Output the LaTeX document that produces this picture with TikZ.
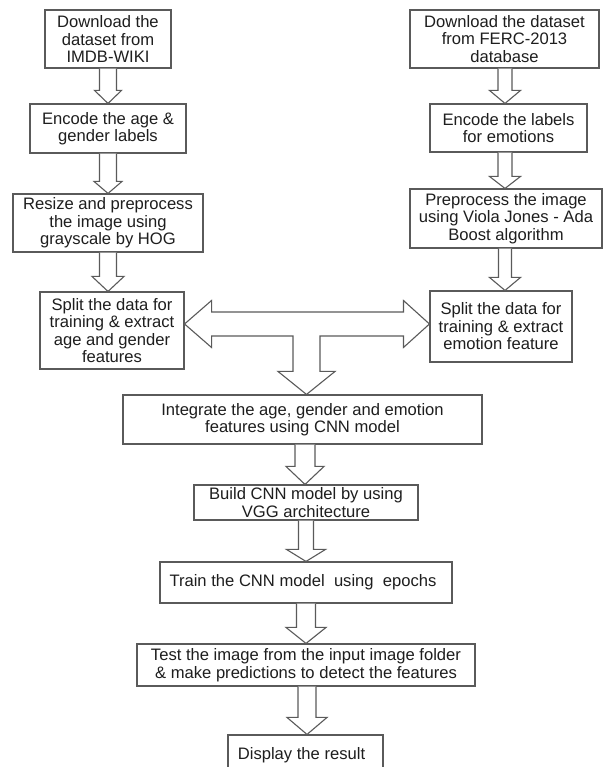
\documentclass[tikz,border=0pt]{standalone}
\usepackage{fontspec}
\setmainfont{Liberation Sans}
\usetikzlibrary{calc}
\definecolor{linec}{HTML}{5A5A5A}
\definecolor{txt}{HTML}{1E1E1E}
\newcommand\boxfont{\fontsize{16.6}{17.5}\selectfont}
\tikzset{
  box/.style={draw=linec, line width=1.1pt, fill=white, text=txt, align=center, inner sep=0pt, font=\boxfont},
  blk/.style={draw=linec, line width=1.1pt, fill=white, line join=miter},
}
% from, to, x, shaft half width, head half width, head length
\newcommand\varrow[6]{%
  \draw[blk] let \p1=(#1.south), \p2=(#2.north) in
    ({#3pt-#4pt},\y1) -- ({#3pt-#4pt},\y2+#6pt) -- ({#3pt-#5pt},\y2+#6pt) -- (#3pt,\y2)
    -- ({#3pt+#5pt},\y2+#6pt) -- ({#3pt+#4pt},\y2+#6pt) -- ({#3pt+#4pt},\y1);}
\begin{document}
\begin{tikzpicture}[x=1pt,y=1pt]
\useasboundingbox (0,0) rectangle (603,767);
\clip (0,0) rectangle (603,767);
% left column
\node[box, minimum width=126pt, minimum height=58pt] (b1) at (108,728) {Download the\\dataset from\\IMDB-WIKI};
\node[box, minimum width=156pt, minimum height=49pt] (b2) at (108,638.5) {Encode the age \&\\gender labels};
\node[box, minimum width=190pt, minimum height=58pt] (b3) at (108,544) {Resize and preprocess\\the image using\\grayscale by HOG};
\node[box, minimum width=144pt, minimum height=77pt] (b4) at (112,436.5) {Split the data for\\training \& extract\\age and gender\\features};
% right column
\node[box, minimum width=189pt, minimum height=58pt] (r1) at (504.5,728) {Download the dataset\\from FERC-2013\\database};
\node[box, minimum width=157pt, minimum height=48pt] (r2) at (508.5,639) {Encode the labels\\for emotions};
\node[box, minimum width=192pt, minimum height=59pt] (r3) at (506,548.5) {Preprocess the image\\using Viola Jones - Ada\\Boost algorithm};
\node[box, minimum width=142pt, minimum height=71pt] (r4) at (501,440.5) {Split the data for\\training \& extract\\emotion feature};
% centre column
\node[box, minimum width=359pt, minimum height=49pt] (in) at (302.5,347.5) {Integrate the age, gender and emotion\\features using CNN model};
\node[box, minimum width=224pt, minimum height=35pt] (bu) at (306,264.5) {Build CNN model by using\\VGG architecture};
\node[box, minimum width=292pt, minimum height=41pt] (tr) at (306,184.5) {Train the CNN model\ \ using\ \ epochs\hspace*{6pt}};
\node[box, minimum width=338pt, minimum height=42pt] (te) at (306,102) {Test the image from the input image folder\\\& make predictions to detect the features};
\node[box, minimum width=155pt, minimum height=40pt] (di) at (305.5,12) {Display the result\hspace*{8pt}};
% vertical block arrows
\varrow{b1}{b2}{108}{8.5}{13.5}{13}
\varrow{b2}{b3}{108}{8.5}{14}{12}
\varrow{b3}{b4}{108}{8.5}{16}{15}
\varrow{r1}{r2}{505}{7}{15.5}{13}
\varrow{r2}{r3}{505}{7}{15.5}{12}
\varrow{r3}{r4}{505}{6.5}{15.5}{13}
\varrow{in}{bu}{305}{10}{19}{18}
\varrow{bu}{tr}{306}{7.5}{19.5}{12}
\varrow{tr}{te}{306}{9.5}{20}{16}
\varrow{te}{di}{307}{9}{20}{17}
% double-headed T arrow
\draw[blk] let \p1=(b4.east), \p2=(r4.west), \p3=(in.north) in
  (\x1,443) -- (\x1+27pt,466.5) -- (\x1+27pt,455) -- (\x2-26pt,455) -- (\x2-26pt,466.5)
  -- (\x2,443) -- (\x2-26pt,419.5) -- (\x2-26pt,431) -- (320,431) -- (320,\y3+23pt)
  -- (335,\y3+23pt) -- (306.5,\y3) -- (278,\y3+23pt) -- (293,\y3+23pt) -- (293,431)
  -- (\x1+27pt,431) -- (\x1+27pt,419.5) -- cycle;
\end{tikzpicture}
\end{document}
